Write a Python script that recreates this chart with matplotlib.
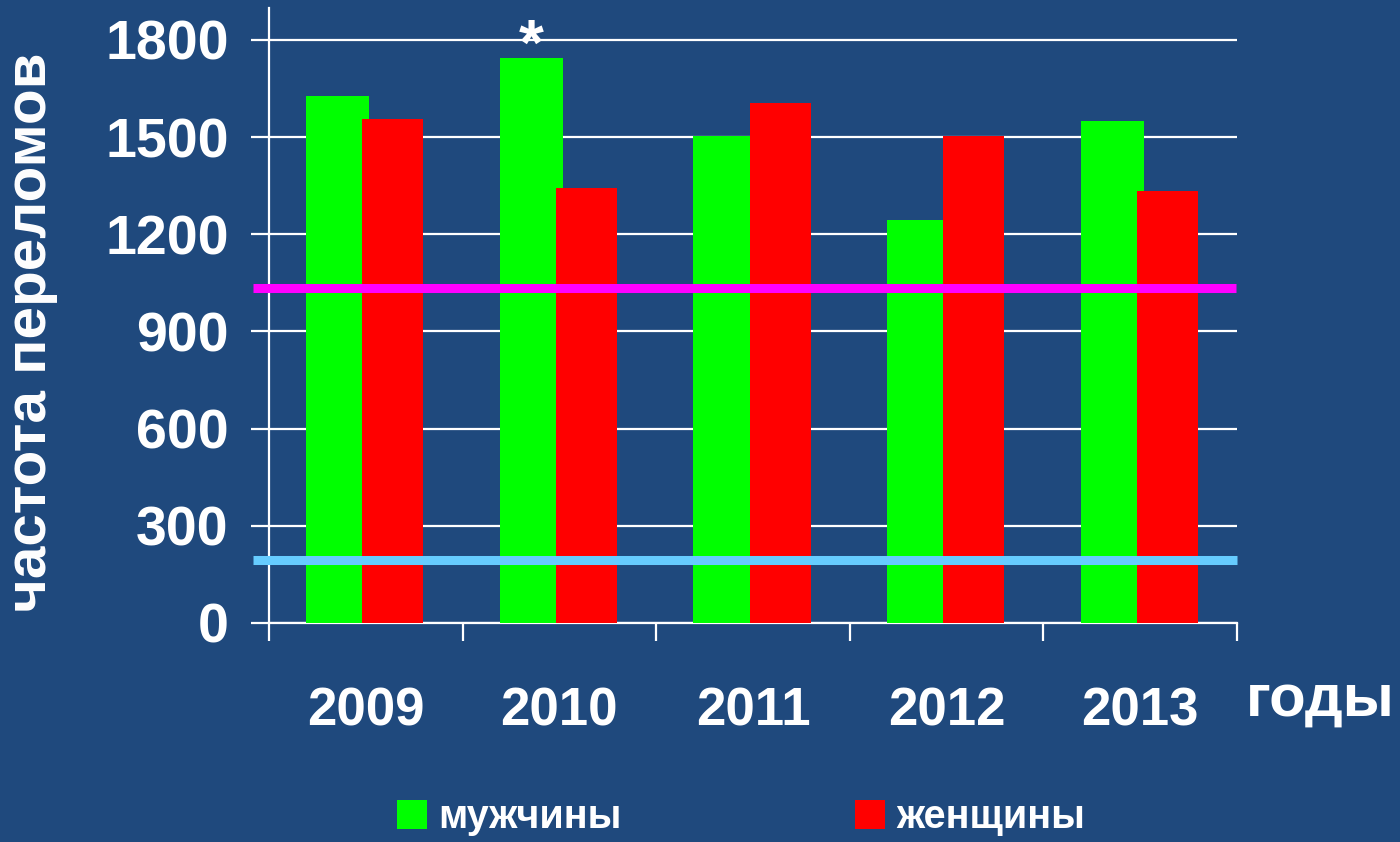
import matplotlib.pyplot as plt
import numpy as np

years = ['2009', '2010', '2011', '2012', '2013']
men = [1628, 1745, 1502, 1243, 1551]
women = [1556, 1344, 1606, 1502, 1335]
upper_level = 1033
lower_level = 195
yticks = [0, 300, 600, 900, 1200, 1500, 1800]

bg = '#1F497D'
plt.rcParams['font.family'] = ['Liberation Sans', 'DejaVu Sans']
plt.rcParams['font.weight'] = 'bold'

fig = plt.figure(figsize=(14, 8.42), dpi=100, facecolor=bg)
ax = fig.add_axes([0.1921, 0.2601, 0.6915, 0.7309], facecolor=bg)

x = np.arange(len(years)) + 0.5
ax.bar(x - 0.145, men, width=0.325, color='#00FF00', label='мужчины', zorder=3)
ax.bar(x + 0.14, women, width=0.315, color='#FF0000', label='женщины', zorder=3)

# reference levels
ax.plot([-0.08, 4.995], [upper_level, upper_level], color='#FF00FF', lw=6.5,
        solid_capstyle='butt', clip_on=False, zorder=4)
ax.plot([-0.08, 5.0], [lower_level, lower_level], color='#66CCFF', lw=6.5,
        solid_capstyle='butt', clip_on=False, zorder=4)

ax.text(x[1] - 0.145, 1775, '*', color='white', fontsize=46, ha='center',
        va='center', fontweight='bold', zorder=5)

ax.set_xlim(0, 5)
ax.set_ylim(0, 1900)
ax.set_yticks(yticks)
ax.set_yticklabels([str(v) for v in yticks])
ax.grid(axis='y', color='white', lw=1.6, zorder=1)

ax.set_xticks(np.arange(6))
ax.set_xticklabels([])
ax.set_xticks(x, minor=True)
ax.set_xticklabels(years, minor=True)
ax.tick_params(axis='x', which='major', length=13, width=1.6, color='white', direction='out')
ax.tick_params(axis='x', which='minor', length=0, pad=46, labelsize=38, labelcolor='white')
ax.tick_params(axis='y', length=13, width=1.6, color='white', direction='out',
               pad=16, labelsize=40, labelcolor='white')

for s in ['top', 'right']:
    ax.spines[s].set_visible(False)
ax.spines['left'].set_color('white')
ax.spines['left'].set_linewidth(1.6)
ax.spines['bottom'].set_color('white')
ax.spines['bottom'].set_linewidth(1.6)

ax.set_ylabel('частота переломов', fontsize=42, color='white', fontweight='bold')
ax.yaxis.set_label_coords(-0.218, 0.473)

fig.text(0.943, 0.168, 'годы', fontsize=43, color='white', fontweight='bold',
         ha='center', va='center')

leg = ax.legend(loc='center', bbox_to_anchor=(0.488, -0.316), ncol=2, frameon=False,
                fontsize=28.5, handlelength=0.76, handleheight=0.73, handletextpad=0.28,
                columnspacing=5.9, borderpad=0)
for t in leg.get_texts():
    t.set_color('white')

fig.savefig('out.png', dpi=100, facecolor=bg)
